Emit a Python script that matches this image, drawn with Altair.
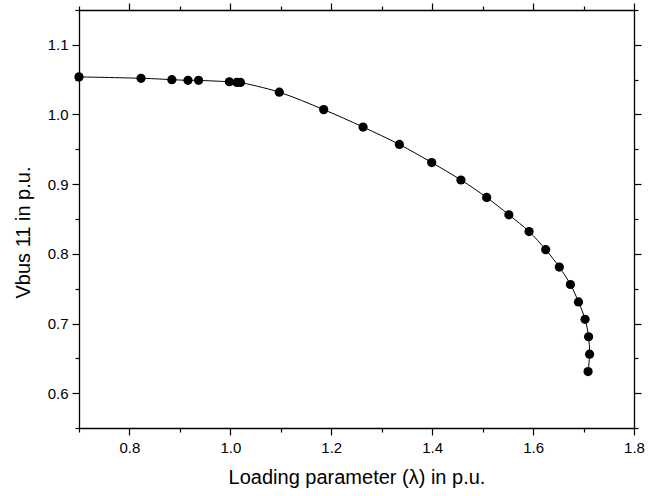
import altair as alt
import pandas as pd

# Data
lam = [0.700, 0.823, 0.884, 0.916, 0.937, 0.998, 1.013, 1.020, 1.097, 1.185,
       1.263, 1.335, 1.399, 1.457, 1.508, 1.552, 1.592, 1.625, 1.652, 1.674,
       1.690, 1.703, 1.710, 1.712, 1.709]
vbus = [1.054, 1.052, 1.050, 1.049, 1.049, 1.047, 1.046, 1.046, 1.032, 1.007,
        0.982, 0.957, 0.931, 0.906, 0.881, 0.856, 0.832, 0.806, 0.781, 0.756,
        0.731, 0.706, 0.681, 0.656, 0.631]
step = list(range(len(lam)))

x_ticks = [0.7, 0.8, 0.9, 1.0, 1.1, 1.2, 1.3, 1.4, 1.5, 1.6, 1.7, 1.8]
y_ticks = [0.55, 0.6, 0.65, 0.7, 0.75, 0.8, 0.85, 0.9, 0.95, 1.0, 1.05, 1.1, 1.15]

df = pd.DataFrame({"lam": lam, "v": vbus, "i": step})

FONT = "Liberation Sans"
xmaj = "round(datum.value*10) % 2 == 0"
ymaj = "round(datum.value*20) % 2 == 0"

common = dict(domainColor="black", domainWidth=1.3, tickColor="black", tickWidth=1.2,
              grid=False, labelFont=FONT, labelFontSize=15, labelColor="black",
              titleFont=FONT, titleFontSize=20, titleFontWeight="normal",
              titleColor="black", labelOverlap=False, labelFlush=False)

x_bottom = alt.Axis(values=x_ticks, orient="bottom", title="Loading parameter (λ) in p.u.",
                    labelExpr=f"{xmaj} ? format(datum.value, '.1f') : ''",
                    tickSize={"condition": {"test": xmaj, "value": 7}, "value": 4},
                    labelPadding=5, titlePadding=12, **common)
x_top = alt.Axis(values=x_ticks, orient="top", title=None, labels=False,
                 tickSize={"condition": {"test": xmaj, "value": 7}, "value": 4}, **common)
y_left = alt.Axis(values=y_ticks, orient="left", title="Vbus 11 in p.u.",
                  labelExpr=f"{ymaj} ? format(datum.value, '.1f') : ''",
                  tickSize={"condition": {"test": ymaj, "value": 7}, "value": 4},
                  labelPadding=4, titlePadding=14, titleY=222, **common)
y_right = alt.Axis(values=y_ticks, orient="right", title=None, labels=False,
                   tickSize={"condition": {"test": ymaj, "value": 7}, "value": 4}, **common)

xs = alt.Scale(domain=[0.7, 1.8], nice=False, zero=False)
ys = alt.Scale(domain=[0.55, 1.15], nice=False, zero=False)

line = alt.Chart(df).mark_line(color="black", strokeWidth=1, interpolate="cardinal").encode(
    x=alt.X("lam:Q", scale=xs, axis=x_bottom),
    y=alt.Y("v:Q", scale=ys, axis=y_left),
    order="i:Q",
)
pts = alt.Chart(df).mark_circle(color="black", opacity=1, size=85).encode(
    x=alt.X("lam:Q", scale=xs, axis=x_top),
    y=alt.Y("v:Q", scale=ys, axis=y_right),
)

chart = alt.layer(line, pts).resolve_axis(x="independent", y="independent").properties(
    width=555, height=418,
    autosize=alt.AutoSizeParams(type="none"),
    padding={"left": 79, "top": 10, "right": 26, "bottom": 68},
    background="white",
).configure_view(stroke=None)

chart.save("out.html", embed_options={"renderer": "svg", "actions": False})
